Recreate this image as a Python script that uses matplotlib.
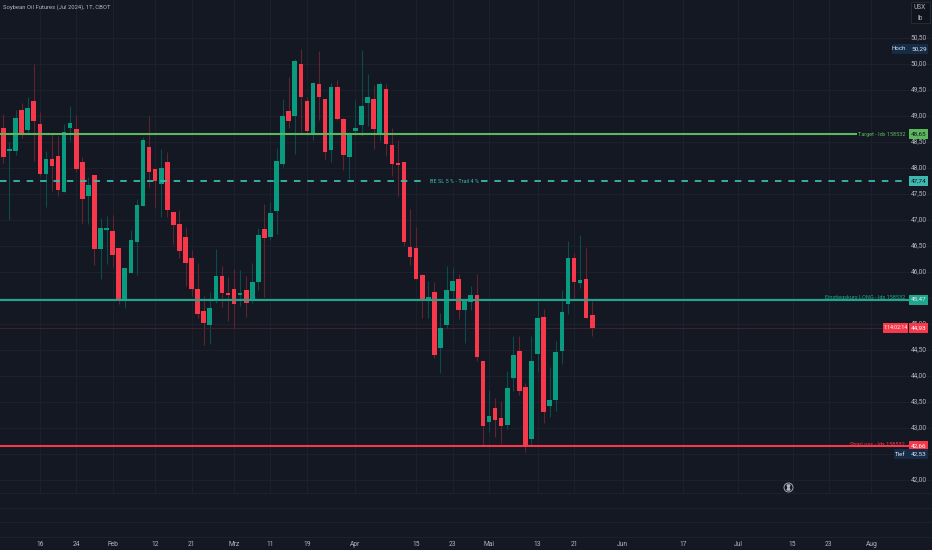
import matplotlib
matplotlib.use("Agg")
import matplotlib.pyplot as plt

plt.rcParams['font.family'] = ['Roboto', 'DejaVu Sans']

# daily bars
opens = [48.76, 48.33, 48.32, 49.11, 48.73, 49.28, 48.84, 47.88, 48.18, 48.23,
         47.54, 48.77, 48.74, 48.11, 47.47, 47.86, 46.45, 46.81, 46.79, 46.47,
         45.47, 45.99, 46.58, 47.27, 48.41, 47.98, 47.69, 48.11, 47.15, 46.92,
         46.67, 46.26, 45.67, 45.25, 44.99, 45.46, 45.92, 45.58, 45.67, 45.56,
         45.65, 45.46, 45.81, 46.82, 46.68, 47.18, 48.08, 49.09, 48.99, 50.00,
         49.28, 48.68, 49.61, 49.33, 48.35, 49.55, 48.94, 48.21, 48.72, 48.83,
         49.24, 49.33, 48.67, 49.52, 48.45, 48.10, 48.11, 46.49, 46.46, 45.94,
         45.46, 45.61, 44.54, 44.98, 45.63, 45.87, 45.26, 45.43, 45.55, 44.29,
         43.12, 43.38, 43.20, 43.06, 43.97, 44.49, 43.78, 42.79, 44.42, 45.13,
         43.43, 43.53, 44.49, 45.39, 46.26, 45.79, 45.87, 45.17]
closes = [48.22, 48.37, 48.97, 48.67, 49.15, 48.91, 47.88, 48.17, 48.04, 47.58,
          48.70, 48.86, 47.98, 47.40, 47.67, 46.45, 46.84, 46.82, 46.33, 45.46,
          46.07, 46.61, 47.29, 48.54, 47.92, 47.74, 47.99, 47.20, 46.90, 46.41,
          46.18, 45.67, 45.20, 45.01, 45.31, 45.92, 45.60, 45.56, 45.38, 45.59,
          45.40, 45.80, 46.72, 46.65, 47.13, 48.13, 48.99, 48.90, 50.05, 49.36,
          48.71, 49.64, 49.36, 48.30, 49.55, 48.94, 48.25, 48.67, 48.75, 49.20,
          49.36, 48.74, 49.61, 48.46, 48.08, 48.05, 46.57, 46.29, 45.87, 45.47,
          45.51, 44.40, 44.93, 45.66, 45.82, 45.26, 45.46, 45.55, 44.36, 43.03,
          43.23, 43.15, 43.03, 43.77, 44.40, 43.71, 42.64, 44.29, 45.12, 43.31,
          43.53, 44.46, 45.24, 46.26, 45.81, 45.84, 45.12, 44.92]
highs = [49.04, 48.49, 49.11, 49.25, 49.36, 49.99, 49.07, 48.33, 48.67, 48.62,
         48.84, 49.19, 49.02, 48.22, 47.82, 47.86, 47.03, 47.08, 47.09, 46.47,
         46.07, 46.81, 47.40, 48.59, 48.99, 47.98, 48.36, 48.31, 47.15, 47.19,
         46.86, 46.42, 46.18, 45.54, 45.61, 46.45, 46.11, 45.91, 46.06, 46.04,
         45.92, 46.18, 46.84, 47.30, 47.34, 48.38, 49.32, 49.75, 50.09, 50.28,
         49.37, 49.66, 50.25, 49.33, 49.63, 49.69, 48.97, 48.70, 49.31, 50.27,
         49.81, 49.59, 49.66, 49.61, 48.76, 48.54, 48.11, 47.21, 46.86, 45.97,
         45.83, 45.81, 45.21, 46.12, 46.08, 45.96, 45.46, 45.74, 45.96, 44.29,
         43.73, 43.58, 43.52, 44.10, 44.76, 44.77, 43.86, 44.76, 45.44, 45.28,
         44.18, 44.68, 45.65, 46.60, 46.36, 46.71, 46.47, 45.44]
lows = [48.10, 47.00, 48.25, 48.58, 48.67, 48.14, 47.84, 47.24, 47.56, 47.47,
        47.54, 48.52, 47.93, 46.94, 46.93, 46.13, 45.86, 46.15, 46.10, 45.38,
        45.30, 45.99, 45.95, 47.27, 47.63, 47.24, 47.05, 47.06, 46.54, 46.26,
        45.73, 45.54, 45.11, 44.60, 44.62, 45.40, 45.33, 45.06, 44.93, 45.35,
        45.14, 45.40, 45.65, 45.51, 46.61, 46.73, 48.02, 48.77, 48.27, 48.70,
        48.63, 48.54, 48.92, 48.18, 48.11, 48.92, 47.96, 47.79, 48.63, 48.61,
        48.81, 48.36, 48.52, 48.23, 47.85, 47.46, 46.50, 46.13, 45.87, 45.11,
        45.11, 44.35, 44.05, 44.90, 45.46, 45.09, 44.63, 45.27, 44.29, 42.67,
        42.92, 42.82, 42.72, 42.99, 43.71, 43.63, 42.53, 42.67, 44.08, 43.10,
        43.21, 43.33, 44.23, 45.19, 45.46, 45.69, 45.12, 44.76]

price_ticks = [50.5, 50.0, 49.5, 49.0, 48.5, 48.0, 47.5, 47.0, 46.5, 46.0, 45.5,
               45.0, 44.5, 44.0, 43.5, 43.0, 42.5, 42.0]
# the 45,50 and 42,50 labels are hidden behind the price tags
price_labels = ['50,50', '50,00', '49,50', '49,00', '48,50', '48,00', '47,50', '47,00',
                '46,50', '46,00', '', '45,00', '44,50', '44,00', '43,50', '43,00', '', '42,00']
date_ticks = [6, 12, 18, 25, 31, 38, 44, 50, 58, 68, 74, 80, 88, 94, 102, 112, 121, 130, 136, 143]
date_labels = ['16', '24', 'Feb', '12', '21', 'Mrz', '11', '19', 'Apr', '15', '23',
               'Mai', '13', '21', 'Jun', '17', 'Jul', '15', '23', 'Aug']

target = 48.65
break_even = 47.74
entry = 45.47
stop = 42.66
last_price = 44.93
day_high = 50.29
day_low = 42.53
trade_id = '158532'

BG = '#141823'
GRID = '#1c202c'
RED = '#f7374a'
GREEN = '#089b80'
RED_WICK = '#5e2531'
GREEN_WICK = '#0c4c48'
TEXT = '#b2b5be'
LINE_GREEN = '#5cb85c'
LINE_TEAL = '#3fb8b0'
LINE_ENTRY = '#1fa68f'
PILL = '#152c47'

W, H = 932, 550

fig = plt.figure(figsize=(W / 100, H / 100), dpi=100, facecolor=BG)
ax = fig.add_axes([0, 0, 1, 1], facecolor=BG)
# one bar is 6.07 px, y scale is 52 px per 1.00
ax.set_xlim(-0.56, 152.98)
ax.set_ylim(40.654, 51.23)
ax.axis('off')
trans = ax.get_yaxis_transform()


def px(x):
    return x / W


def py(y):
    return 51.23 - y / 52


def fmt(p):
    return f'{p:.2f}'.replace('.', ',')


def label(x, price, text, color=TEXT, ha='center', z=5, size=4.8, **kw):
    ax.text(px(x), price, text, transform=trans, color=color, fontsize=size, ha=ha, va='center', zorder=z, **kw)


def tag(x0, x1, price, text, color, text_color, size=4.6):
    ax.fill_between([px(x0), px(x1)], price - 5 / 52, price + 5 / 52, transform=trans,
                    color=color, lw=0, zorder=6)
    label((x0 + x1) / 2, price, text, text_color, z=7, size=size)


# grid stops above the lower strip
for t in date_ticks:
    ax.plot([t, t], [py(493), 51.23], color=GRID, lw=0.8, zorder=1)
for p in price_ticks:
    ax.plot([-0.56, 152.98], [p, p], color=GRID, lw=0.8, zorder=1)
for y in [493, 508, 522, 537]:
    ax.plot([-0.56, 152.98], [py(y), py(y)], color='#1d212d', lw=0.8, zorder=1)

# candles
for i in range(len(opens)):
    up = closes[i] >= opens[i]
    ax.vlines(i, lows[i], highs[i], color=GREEN_WICK if up else RED_WICK, lw=0.8, zorder=2)
    ax.bar(i, max(abs(closes[i] - opens[i]), 0.04), bottom=min(opens[i], closes[i]),
           width=0.76, color=GREEN if up else RED, lw=0, zorder=3)

# trade levels
ax.plot([0, px(856)], [target, target], transform=trans, color=LINE_GREEN, lw=1.5, zorder=4)
ax.plot([0, px(905)], [break_even, break_even], transform=trans, color=LINE_TEAL, lw=1.3,
        dashes=(3.6, 3.8), zorder=4)
ax.plot([0, px(908)], [entry, entry], transform=trans, color=LINE_ENTRY, lw=1.5, zorder=4)
ax.plot([0, px(908)], [stop, stop], transform=trans, color=RED, lw=1.5, zorder=4)
ax.plot([0, px(882)], [last_price, last_price], transform=trans, color='#45202b', lw=0.7, zorder=2)

# line captions, the dashed one sits in a gap of its line
label(454, break_even, 'BE SL 5 % - Trail 4 %', LINE_TEAL, size=4.0,
      bbox=dict(facecolor=BG, edgecolor='none', pad=1.5))
label(905, target, 'Target - Idx ' + trade_id, LINE_GREEN, ha='right', size=4.0)
label(905, py(297.5), 'Einstiegskurs LONG - Idx ' + trade_id, LINE_ENTRY, ha='right', size=4.0)
label(905, py(444), 'StopLoss - Idx ' + trade_id, RED, ha='right', size=4.0)

# price axis labels
for p, text in zip(price_ticks, price_labels):
    label(919, p, text)

# date axis labels
for t, text in zip(date_ticks, date_labels):
    ax.text(t, py(544), text, color=TEXT, fontsize=4.8, ha='center', va='center', zorder=5)

# price tags on the right
tag(909, 928, target, fmt(target), LINE_GREEN, '#10141c')
tag(909, 928, break_even, fmt(break_even), LINE_TEAL, '#10141c')
tag(909, 928, entry, fmt(entry), LINE_ENTRY, '#e8e8e8')
tag(909, 928, last_price, fmt(last_price), RED, '#ffffff')
tag(883, 908, last_price, '1:14:02:14', RED, '#ffffff', size=3.8)
tag(909, 928, stop, fmt(stop), RED, '#ffffff')

# high / low pills, the low one is pushed below the stop tag
tag(892, 928, day_high, '', PILL, TEXT)
label(899, day_high, 'Hoch', '#e0e3eb', z=7, size=4.4)
label(919, day_high, fmt(day_high), '#e0e3eb', z=7, size=4.6)
tag(894, 928, py(454), '', PILL, TEXT)
label(900.5, py(454), 'Tief', '#e0e3eb', z=7, size=4.4)
label(919, py(454), fmt(day_low), '#e0e3eb', z=7, size=4.6)

# unit box
ax.add_patch(plt.Rectangle((px(911), py(23)), 19 / W, 21 / 52, transform=trans, facecolor='#10141c',
                           edgecolor='#252a36', lw=0.7, zorder=5))
label(920, py(7.5), 'USX', z=6)
label(920, py(18), 'lb', z=6)

# title
label(3, py(7), 'Soybean Oil Futures (Jul 2024), 1T, CBOT', ha='left', z=6, size=4.25)

# small hourglass icon in the lower area
ax.plot([px(788)], [py(487)], transform=trans, marker='o', ms=6.5, mfc=BG, mec=TEXT, mew=0.6, zorder=6)
ax.plot([px(788)], [py(485.7)], transform=trans, marker='v', ms=2.2, color=TEXT, lw=0, zorder=7)
ax.plot([px(788)], [py(488.3)], transform=trans, marker='^', ms=2.2, color=TEXT, lw=0, zorder=7)

fig.savefig('out.png', dpi=100, facecolor=BG)
